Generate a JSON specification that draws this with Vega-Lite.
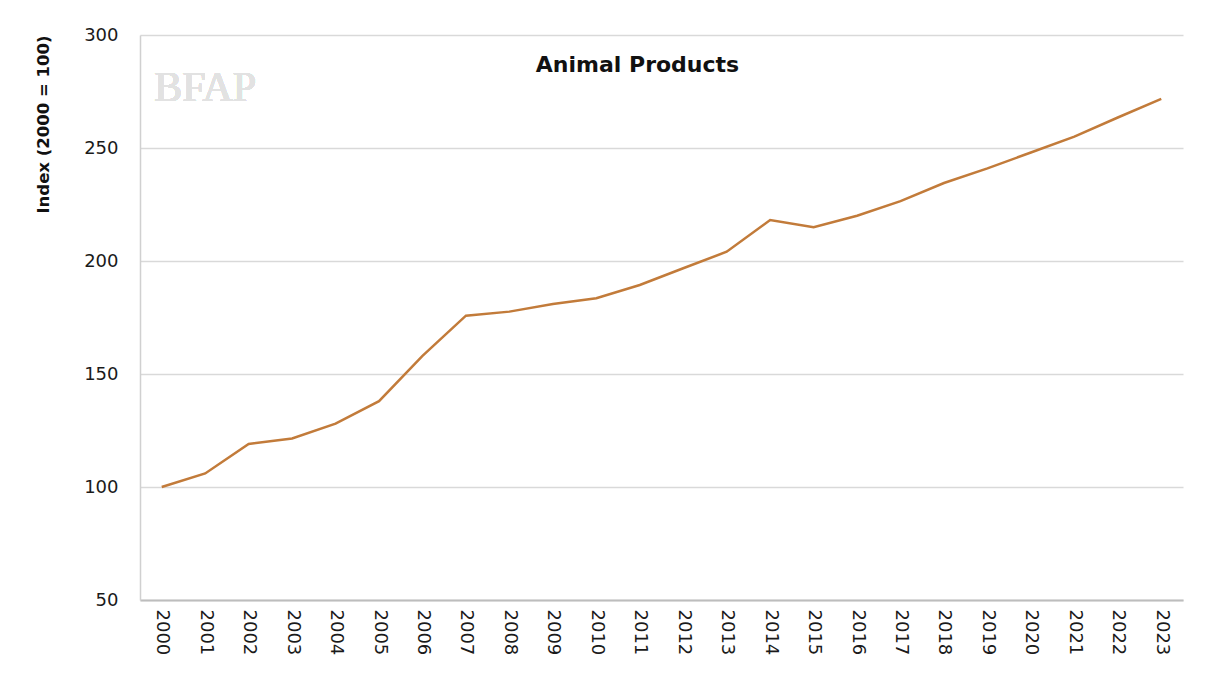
{
  "$schema": "https://vega.github.io/schema/vega-lite/v6.json",
  "width": 1043,
  "height": 565,
  "autosize": {"type": "none"},
  "padding": {"left": 140, "top": 35, "right": 39, "bottom": 77},
  "background": "white",
  "title": {
    "text": "Animal Products",
    "font": "DejaVu Sans",
    "fontSize": 22,
    "fontWeight": "bold",
    "color": "#111111",
    "anchor": "middle",
    "frame": "group",
    "baseline": "alphabetic",
    "offset": -68,
    "dx": -24
  },
  "data": {
    "values": [
      {"year": "2000", "index": 100},
      {"year": "2001", "index": 106},
      {"year": "2002", "index": 119},
      {"year": "2003", "index": 121.5},
      {"year": "2004", "index": 128},
      {"year": "2005", "index": 138},
      {"year": "2006", "index": 158},
      {"year": "2007", "index": 175.8},
      {"year": "2008", "index": 177.6},
      {"year": "2009", "index": 181},
      {"year": "2010", "index": 183.5},
      {"year": "2011", "index": 189.4},
      {"year": "2012", "index": 196.8},
      {"year": "2013", "index": 204.1},
      {"year": "2014", "index": 218.1},
      {"year": "2015", "index": 214.9},
      {"year": "2016", "index": 220},
      {"year": "2017", "index": 226.5},
      {"year": "2018", "index": 234.5},
      {"year": "2019", "index": 241},
      {"year": "2020", "index": 248},
      {"year": "2021", "index": 255},
      {"year": "2022", "index": 263.5},
      {"year": "2023", "index": 271.7}
    ]
  },
  "layer": [
    {
      "mark": {"type": "text", "text": "BFAP", "font": "Liberation Serif", "fontSize": 42, "color": "#e2e2e2"},
      "encoding": {
        "x": {"datum": "2001", "type": "ordinal"},
        "y": {"datum": 276.5, "type": "quantitative"}
      }
    },
    {
      "mark": {"type": "line", "color": "#C27B3A", "strokeWidth": 2.5},
      "encoding": {
        "x": {
          "field": "year",
          "type": "ordinal",
          "scale": {"type": "point", "padding": 0.5},
          "axis": {
            "title": null,
            "labelAngle": 90,
            "labelAlign": "left",
            "labelBaseline": "middle",
            "labelFont": "DejaVu Sans",
            "labelFontSize": 18,
            "labelColor": "#1a1a1a",
            "labelPadding": 9,
            "ticks": false,
            "tickSize": 0,
            "domainColor": "#bdbdbd",
            "domainWidth": 2,
            "grid": false
          }
        },
        "y": {
          "field": "index",
          "type": "quantitative",
          "scale": {"domain": [50, 300], "nice": false, "zero": false},
          "axis": {
            "title": "Index (2000 = 100)",
            "titleFont": "DejaVu Sans",
            "titleFontSize": 16.5,
            "titleFontWeight": "bold",
            "titleColor": "#111111",
            "titleAnchor": "end",
            "titlePadding": 32,
            "values": [50, 100, 150, 200, 250, 300],
            "labelFont": "DejaVu Sans",
            "labelFontSize": 18,
            "labelColor": "#1a1a1a",
            "labelPadding": 22,
            "ticks": false,
            "tickSize": 0,
            "domainColor": "#d0d0d0",
            "domainWidth": 1.5,
            "grid": true,
            "gridColor": "#d9d9d9",
            "gridWidth": 1.5
          }
        }
      }
    }
  ],
  "config": {
    "view": {"stroke": null}
  }
}
